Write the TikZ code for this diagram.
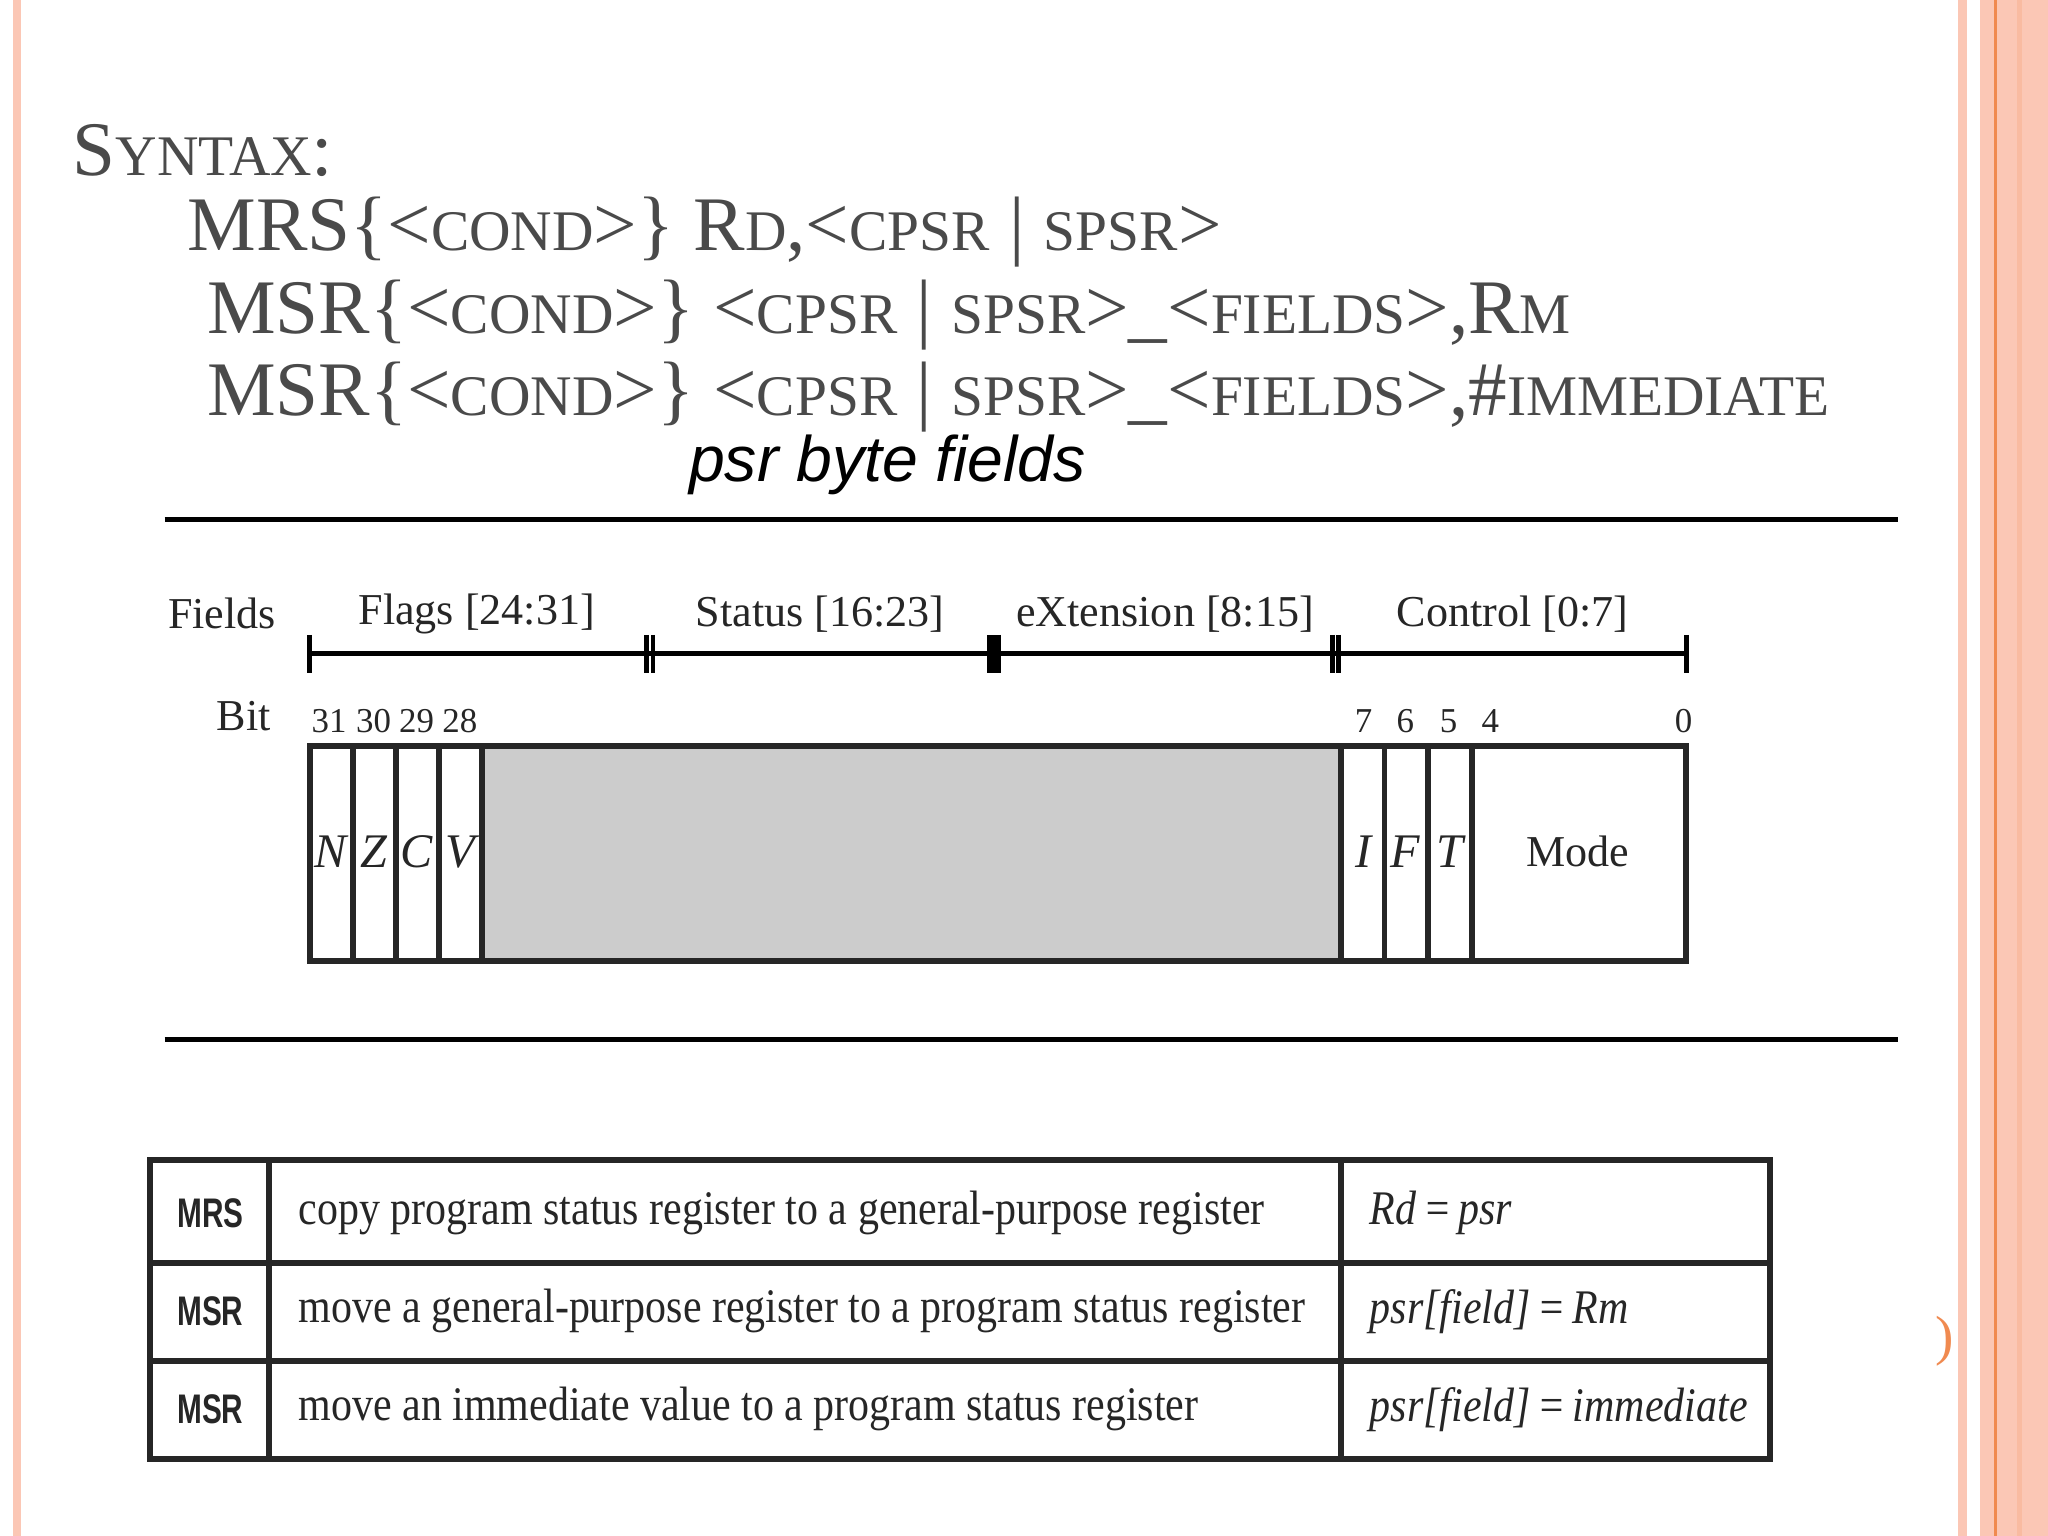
\documentclass[tikz,border=0pt]{standalone}
\usepackage{fontspec}
\setmainfont{Liberation Serif}
\newfontfamily\sansf{Liberation Sans}
\definecolor{salmon}{HTML}{FBC7B5}
\definecolor{dkorange}{HTML}{F08A50}
\definecolor{titlegray}{HTML}{4A4A4A}
\newcommand{\sm}[1]{{\fontsize{12.5}{13}\selectfont #1}}
\newcommand{\nx}[2]{\scalebox{#1}[1]{#2}}
\begin{document}
\begin{tikzpicture}[x=0.01cm,y=-0.01cm,
  tl/.style={anchor=west,inner sep=0,text=titlegray,font=\fontsize{16.8}{18}\selectfont},
  lbl/.style={inner sep=0,font=\fontsize{9.6}{10}\selectfont,text=black!85},
  bitn/.style={inner sep=0,font=\fontsize{7.6}{8}\selectfont,text=black!85},
  fl/.style={inner sep=0,font=\fontsize{10.5}{11}\selectfont\itshape,text=black!85},
  reg/.style={draw=black!85,line width=1.3pt},
  cellA/.style={anchor=west,inner sep=0,font=\sansf\bfseries\fontsize{9}{10}\selectfont,text=black!85},
  cellB/.style={anchor=west,inner sep=0,font=\fontsize{10.5}{11}\selectfont,text=black!85},
  cellC/.style={anchor=west,inner sep=0,font=\fontsize{10.5}{11}\selectfont\itshape,text=black!85}]
\useasboundingbox (0,0) rectangle (1568,1176);
\fill[white] (0,0) rectangle (1568,1176);
% borders
\fill[salmon] (10,0) rectangle (16,1176);
\fill[salmon] (1499,0) rectangle (1506,1176);
\fill[salmon] (1516,0) rectangle (1568,1176);
\fill[salmon!80!dkorange] (1544,0) rectangle (1548,1176);
\draw[dkorange,line width=0.6pt] (1528,0) -- (1528,1176);
\node[inner sep=0,text=dkorange,font=\fontsize{12}{12}\selectfont] (paren) at (1489,1027) {)};
% title
\node[tl] (t0) at (55,115) {S\sm{YNTAX}:};
\node[tl] (t1) at (143,178) {MRS\{<\sm{COND}>\} R\sm{D},<\sm{CPSR} | \sm{SPSR}>};
\node[tl] (t2) at (158,241) {MSR\{<\sm{COND}>\} <\sm{CPSR} | \sm{SPSR}>\_<\sm{FIELDS}>,R\sm{M}};
\node[tl] (t3) at (158,304) {MSR\{<\sm{COND}>\} <\sm{CPSR} | \sm{SPSR}>\_<\sm{FIELDS}>,\#\sm{IMMEDIATE}};
\node[anchor=west,inner sep=0,font=\sansf\itshape\fontsize{14}{15}\selectfont] (psr) at (527,356) {psr byte fields};
% rules
\coordinate (r1a) at (126,398); \coordinate (r1b) at (1453,398);
\coordinate (r2a) at (126,796); \coordinate (r2b) at (1453,796);
\draw[line width=1.1pt] (r1a) -- (r1b);
\draw[line width=1.1pt] (r2a) -- (r2b);
% fields
\node[lbl,anchor=west] (fields) at (128,470) {Fields};
\node[lbl] (flags) at (365,470) {Flags [24:31]};
\node[lbl] (status) at (628,470) {Status [16:23]};
\node[lbl] (ext) at (892,470) {eXtension [8:15]};
\node[lbl] (ctrl) at (1158,470) {Control [0:7]};
\coordinate (b0) at (237,500); \coordinate (b1) at (1291,500);
\draw[line width=1.1pt] (b0) -- (b1);
\foreach \x in {237,495,500,1020,1025,1291} \draw[line width=1pt] (\x,486) -- (\x,515);
\draw[line width=3pt] (761,486) -- (761,515);
\node[lbl,anchor=east] (bit) at (208,548) {Bit};
\foreach \x/\t in {252/31,286/30,319/29,352/28,1044/7,1076/6,1109/5,1141/4,1289/0}
  \node[bitn] (bn\t) at (\x,552) {\t};
% register
\fill[black!20] (369,571) rectangle (1027,736);
\draw[reg] (237,571) rectangle (1291,736);
\foreach \x in {270,303,336,369,1027,1060,1093,1127} \draw[reg] (\x,571) -- (\x,736);
\foreach \x/\t in {253/N,286/Z,319/C,352/V,1044/I,1076/F,1110/T}
  \node[fl] (f\t) at (\x,652) {\t};
\node[lbl] (mode) at (1208,652) {Mode};
% table
\draw[reg] (115,888) rectangle (1355,1117);
\draw[reg] (115,967) -- (1355,967);
\draw[reg] (115,1042) -- (1355,1042);
\draw[reg] (206,888) -- (206,1117);
\draw[reg] (1027,888) -- (1027,1117);
\node[cellA] (a1) at (135,929) {\nx{0.72}{MRS}};
\node[cellA] (a2) at (135,1004) {\nx{0.72}{MSR}};
\node[cellA] (a3) at (135,1079) {\nx{0.72}{MSR}};
\node[cellB] (d1) at (228,929) {\nx{0.87}{copy program status register to a general-purpose register}};
\node[cellB] (d2) at (228,1004) {\nx{0.87}{move a general-purpose register to a program status register}};
\node[cellB] (d3) at (228,1079) {\nx{0.87}{move an immediate value to a program status register}};
\node[cellC] (e1) at (1048,929) {\nx{0.87}{Rd\,=\,psr}};
\node[cellC] (e2) at (1048,1004) {\nx{0.87}{psr[field]\,=\,Rm}};
\node[cellC] (e3) at (1048,1079) {\nx{0.87}{psr[field]\,=\,immediate}};
\end{tikzpicture}
\end{document}
